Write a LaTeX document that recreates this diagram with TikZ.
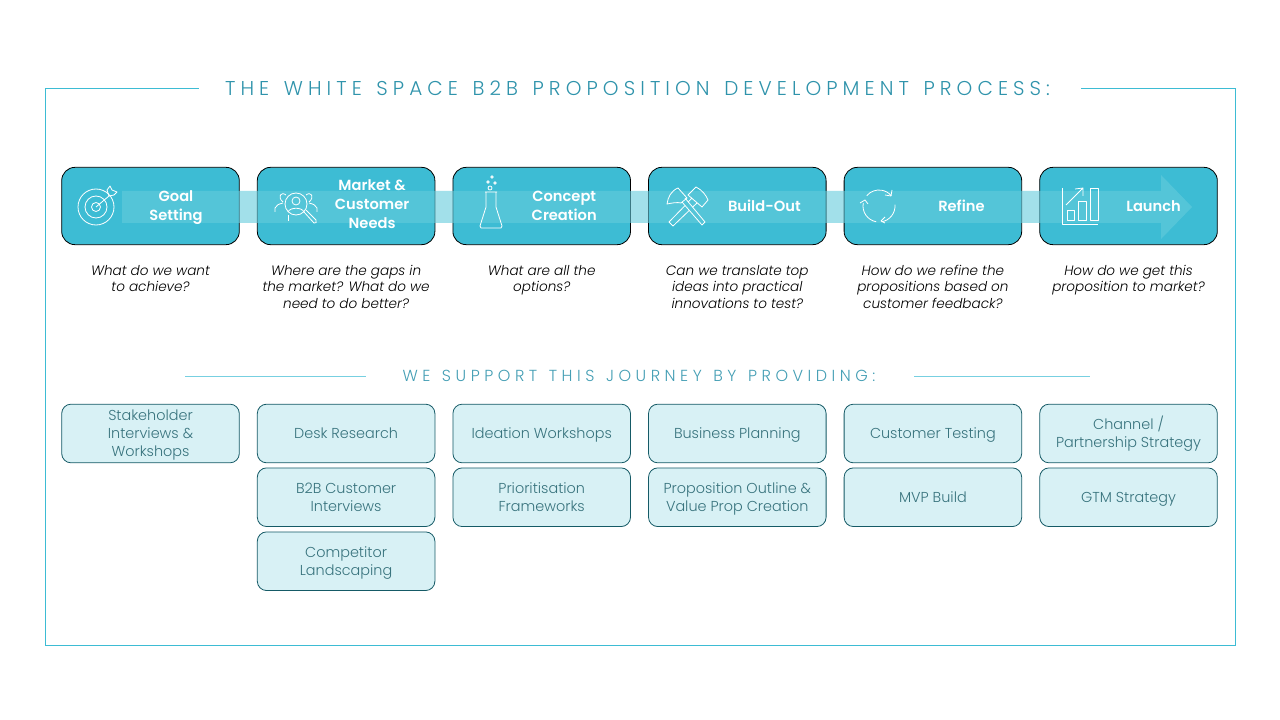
\documentclass[tikz,border=0pt]{standalone}
\usepackage{fontspec}
\setmainfont{Poppins Light}[BoldFont = Poppins SemiBold, ItalicFont = Poppins Light Italic]
\newfontfamily\headfont[LetterSpace=25.4]{Poppins Light}
\newfontfamily\subheadfont[LetterSpace=28.3]{Poppins Light}
\usetikzlibrary{arrows}
\definecolor{boxteal}{HTML}{3DBCD4}
\definecolor{flowteal}{HTML}{64CBDC}
\definecolor{paleteal}{HTML}{D8F1F5}
\definecolor{deepteal}{HTML}{155A66}
\definecolor{headteal}{HTML}{2F93AB}
\newcommand{\tallstrut}{\rule[-4.05pt]{0pt}{15.9pt}}

\begin{document}
\begin{tikzpicture}[
            x = 0.75pt, y = -0.75pt, % one unit is one pixel of the slide
            auto,
            node distance = 146.7pt, % distance between columns
            semithick % line style
        ]

        \tikzstyle{stepbox}=[
            draw = black,
            fill = boxteal,
            line width = 0.6pt,
            rounded corners = 10pt,
            minimum width = 133.2pt,
            minimum height = 58pt
        ]
        \tikzstyle{steplabel}=[
            text = white,
            font = \bfseries\fontsize{11}{14.25}\selectfont,
            align = center,
            inner sep = 0pt,
            yshift = -1.1pt,
            execute at begin node = \strut,
            execute at end node = \strut
        ]
        \tikzstyle{question}=[
            font = \itshape\fontsize{10.2}{12.4}\selectfont,
            align = center,
            inner sep = 0pt,
            yshift = -1.5pt,
            execute at begin node = \strut,
            execute at end node = \strut
        ]
        \tikzstyle{supportbox}=[
            draw = deepteal,
            fill = paleteal,
            line width = 0.6pt,
            text = deepteal!85!white,
            font = \fontsize{10.8}{13.5}\selectfont,
            align = center,
            rounded corners = 7pt,
            inner sep = 0pt,
            minimum width = 133.2pt,
            minimum height = 44pt,
            execute at end node = \strut
        ]
        \tikzstyle{icon}=[
            draw = white,
            line width = 0.6pt,
            line join = round
        ]

        \useasboundingbox (0,0) rectangle (1280,720);

        % outer frame, open at the title
        \coordinate (frameleft) at (199,88.5);
        \coordinate (frameright) at (1081,88.5);
        \draw[boxteal, line width = 0.75pt] (frameright) -- (1235.5,88.5) -- (1235.5,645.5) -- (45.5,645.5) -- (45.5,88.5) -- (frameleft);

        \node[text = headteal, font = \headfont\fontsize{15}{18}\selectfont, inner sep = 0pt] (title) at (637.5,88)
            {THE\hspace{3pt} WHITE\hspace{3pt} SPACE\hspace{3pt} B2B\hspace{3pt} PROPOSITION\hspace{3pt} DEVELOPMENT\hspace{3pt} PROCESS:};

        % process steps
        \node[stepbox] (stepa) at (150.5,206) {};
        \node[stepbox] (stepb) [right of = stepa] {};
        \node[stepbox] (stepc) [right of = stepb] {};
        \node[stepbox] (stepd) [right of = stepc] {};
        \node[stepbox] (stepe) [right of = stepd] {};
        \node[stepbox] (stepf) [right of = stepe] {};

        % big arrow running through the steps
        \fill[flowteal, opacity = 0.6] (122,191) -- (1161,191) -- (1161,175) -- (1192,207)
            -- (1161,239) -- (1161,223) -- (122,223) -- cycle;

        % target
        \draw[icon] (96,207) circle (18) (96,207) circle (11) (96,207) circle (4.5);
        \draw[icon] (96,207) -- (109,196);
        \draw[icon] (109,196) -- (107,190) -- (110,186) -- (112,190) -- (117,192) -- (114,195) -- cycle;

        % people under a magnifier
        \draw[icon] (296,204) circle (11) (296,201) circle (4);
        \draw[icon] (288,212) .. controls (290,207) and (302,207) .. (304,212);
        \draw[icon] (304,212) -- (314,223) .. controls (316,224) and (317,222) .. (316,220) -- (306,210);
        \draw[icon] (286,195) .. controls (281,191) and (277,197) .. (283,202);
        \draw[icon] (306,195) .. controls (311,191) and (315,197) .. (309,202);
        \draw[icon] (275,212) -- (275,208) .. controls (276,205) and (279,204) .. (283,203);
        \draw[icon] (317,212) -- (317,208) .. controls (316,205) and (313,204) .. (309,203);
        \draw[icon] (288,215) -- (288,221);

        % flask
        \draw[icon] (485,192) -- (497,192) (486,192) -- (486,207) -- (480,226) -- (481,228) -- (501,228) -- (502,226) -- (496,207) -- (496,192);
        \draw[icon] (490,188) circle (2) (488,182) circle (1.3) (495,183) circle (1.3) (492,177) circle (1.3);

        % crossed hammers
        \draw[icon] (685,198) -- (705,222) -- (702,225) -- (682,202);
        \draw[icon] (667,204) .. controls (668,197) and (671,191) .. (678,188) -- (687,198) -- (681,203) .. controls (677,202) and (672,203) .. (667,204) -- cycle;
        \draw[icon] (685,205.6) -- (669,222) -- (673,226) -- (689.3,210.4);
        \draw[icon] (688.3,201.9) -- (692,198) (692.6,207.1) -- (697,203);
        \draw[icon] (696,187) -- (688,195) -- (702,207) -- (708,200) .. controls (706,195) and (702,190) .. (696,187) -- cycle;

        % refresh arrows
        \coordinate (refresh) at (879,206);
        \draw[icon] (refresh) ++(220:16) arc[start angle = 220, end angle = 320, radius = 16];
        \draw[icon] (885,195) -- (891,196) -- (892,190);
        \draw[icon] (refresh) ++(-5:16) arc[start angle = -5, end angle = 80, radius = 16];
        \draw[icon] (885,217) -- (881,221) -- (885,223);
        \draw[icon] (refresh) ++(100:16) arc[start angle = 100, end angle = 190, radius = 16];
        \draw[icon] (860,203) -- (865,200) -- (868,204);

        % growth chart
        \draw[icon] (1062,188) -- (1062,224) -- (1098,224);
        \draw[icon] (1067,210) rectangle (1074,220) (1078,201) rectangle (1086,220) (1090,188) rectangle (1098,220);
        \draw[icon] (1066,205) -- (1083,188) (1075,189) -- (1083,188) -- (1083,196);

        % step names
        \node[steplabel, right of = stepa, node distance = 19.1pt, yshift = -0.6pt] (namea) {Goal\\Setting};
        \node[steplabel, right of = stepb, node distance = 19.5pt, yshift = 0.4pt] (nameb) {Market \&\\Customer\\Needs};
        \node[steplabel, right of = stepc, node distance = 16.9pt, yshift = -0.6pt] (namec) {Concept\\Creation};
        \node[steplabel, right of = stepd, node distance = 20.3pt] (named) {Build-Out};
        \node[steplabel, right of = stepe, node distance = 21.4pt] (namee) {Refine};
        \node[steplabel, right of = stepf, node distance = 18.8pt] (namef) {Launch};

        % questions under the steps
        \node[question, below of = stepa, node distance = 54.75pt] (aska) {What do we want\\to achieve?};
        \node[question, below of = stepb, node distance = 60.75pt] (askb) {Where are the gaps in\\the market? What do we\\need to do better?};
        \node[question, below of = stepc, node distance = 54.75pt] (askc) {What are all the\\options?};
        \node[question, below of = stepd, node distance = 60.75pt] (askd) {Can we translate top\\ideas into practical\\innovations to test?};
        \node[question, below of = stepe, node distance = 60.75pt] (aske) {How do we refine the\\propositions based on\\customer feedback?};
        \node[question, below of = stepf, node distance = 54.75pt] (askf) {How do we get this\\proposition to market?};

        % second heading
        \node[text = headteal!90!white, font = \subheadfont\fontsize{12}{15}\selectfont, inner sep = 0pt] (support) at (639,376)
            {WE\hspace{2pt} SUPPORT\hspace{2pt} THIS\hspace{2pt} JOURNEY\hspace{2pt} BY\hspace{2pt} PROVIDING:};
        \coordinate (ruleaa) at (185,376.5);
        \coordinate (ruleab) at (366,376.5);
        \coordinate (ruleba) at (914,376.5);
        \coordinate (rulebb) at (1090,376.5);
        \draw[boxteal!70, line width = 0.6pt] (ruleaa) -- (ruleab);
        \draw[boxteal!70, line width = 0.6pt] (ruleba) -- (rulebb);

        % what is provided at each step
        \node[supportbox] (suppa) at (150.5,433.5) {\tallstrut Stakeholder\\Interviews \&\\Workshops};
        \node[supportbox, right of = suppa] (suppb) {\tallstrut Desk Research};
        \node[supportbox, right of = suppb] (suppc) {\tallstrut Ideation Workshops};
        \node[supportbox, right of = suppc] (suppd) {\tallstrut Business Planning};
        \node[supportbox, right of = suppd] (suppe) {\tallstrut Customer Testing};
        \node[supportbox, right of = suppe] (suppf) {\tallstrut Channel /\\Partnership Strategy};
        \node[supportbox, below of = suppb, node distance = 47.8pt] (suppbb) {\tallstrut B2B Customer\\Interviews};
        \node[supportbox, below of = suppc, node distance = 47.8pt] (suppcb) {\tallstrut Prioritisation\\Frameworks};
        \node[supportbox, below of = suppd, node distance = 47.8pt] (suppdb) {\tallstrut Proposition Outline \&\\Value Prop Creation};
        \node[supportbox, below of = suppe, node distance = 47.8pt] (suppeb) {\tallstrut MVP Build};
        \node[supportbox, below of = suppf, node distance = 47.8pt] (suppfb) {\tallstrut GTM Strategy};
        \node[supportbox, below of = suppbb, node distance = 48pt] (suppbc) {\tallstrut Competitor\\Landscaping};
    \end{tikzpicture}
\end{document}
